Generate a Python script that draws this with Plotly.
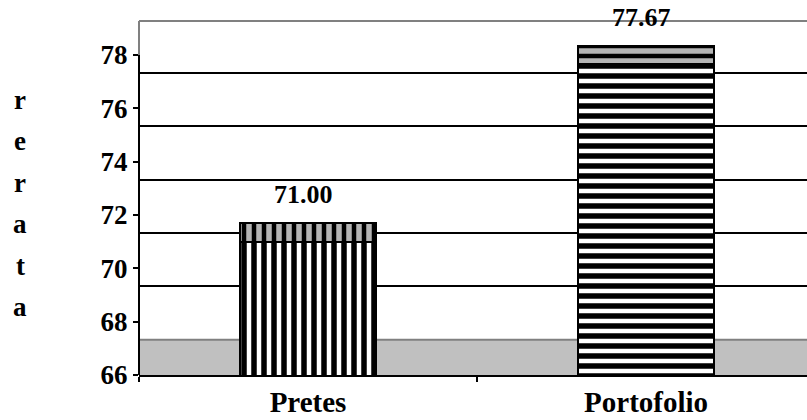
import plotly.graph_objects as go

# ---- data ----
categories = ["Pretes", "Portofolio"]
values = [71.00, 77.67]
y_ticks = [66, 68, 70, 72, 74, 76, 78]
axis_title = "rerata"

# ---- styling constants ----
FONT = "Liberation Serif"
FS_TICK = 27
FS_CAT = 29
FS_VAL = 26
DEPTH = 0.68          # 3D depth offset of the back wall (axis units)
Y_MIN, Y_MAX = 66, 79.27
X_RANGE = [-0.5, 1.476]
BAR_W = 0.40
patterns = ["|", "-"]

fig = go.Figure()

# front faces of bars
fig.add_trace(go.Bar(
    x=categories, y=values, width=BAR_W,
    marker=dict(color="white",
                line=dict(color="black", width=2),
                pattern=dict(shape=patterns, fgcolor="black", bgcolor="white",
                             fgopacity=1, size=10, solidity=0.55, fillmode="replace")),
    showlegend=False, hoverinfo="skip",
))
# top (depth) faces of bars
fig.add_trace(go.Bar(
    x=categories, y=[DEPTH] * len(values), base=values, width=BAR_W,
    marker=dict(color="#a8a8a8",
                line=dict(color="black", width=2),
                pattern=dict(shape=patterns, fgcolor="black", bgcolor="#b4b4b4",
                             fgopacity=1, size=10, solidity=0.45, fillmode="replace")),
    showlegend=False, hoverinfo="skip",
))

# value labels
for c, v in zip(categories, values):
    fig.add_annotation(x=c, y=v + DEPTH, xref="x", yref="y", text=f"<b>{v:.2f}</b>",
                       showarrow=False, xanchor="center", yanchor="bottom",
                       yshift=12, xshift=-5,
                       font=dict(family=FONT, size=FS_VAL, color="black"))

# vertical axis title, one letter per line
L0, STEP = 100, 41.4
for i, ch in enumerate(axis_title):
    ypx = L0 + i * STEP
    fig.add_annotation(x=-0.178, y=(375 - ypx) / 354, xref="paper", yref="paper",
                       text=f"<b>{ch}</b>", showarrow=False,
                       xanchor="center", yanchor="middle",
                       font=dict(family=FONT, size=FS_TICK, color="black"))

# floor (3D base)
fig.add_shape(type="rect", xref="paper", yref="y2", x0=0, x1=1,
              y0=Y_MIN + DEPTH, y1=y_ticks[1], fillcolor="#c0c0c0",
              line=dict(width=0), layer="below")
fig.add_shape(type="line", xref="paper", yref="y2", x0=0, x1=1,
              y0=y_ticks[1], y1=y_ticks[1], line=dict(color="#808080", width=2),
              layer="below")
# top edge of back wall
fig.add_shape(type="line", xref="paper", yref="paper", x0=0, x1=1, y0=1, y1=1,
              line=dict(color="#808080", width=2), layer="below")
# left axis edge: black up to top tick, gray above
fig.add_shape(type="line", xref="paper", yref="y", x0=0, x1=0, y0=Y_MIN, y1=y_ticks[-1],
              line=dict(color="black", width=2), layer="above")
fig.add_shape(type="line", xref="paper", yref="y", x0=0, x1=0, y0=y_ticks[-1], y1=Y_MAX,
              line=dict(color="#808080", width=2), layer="above")

fig.update_layout(
    width=807, height=420,
    margin=dict(l=139, r=0, t=21, b=45, autoexpand=False),
    plot_bgcolor="white", paper_bgcolor="white",
    barmode="overlay", bargap=0,
    showlegend=False,
    xaxis=dict(range=X_RANGE, showgrid=False, showline=True, linecolor="black", linewidth=2,
               ticks="outside", tickson="boundaries", ticklen=5, tickwidth=2, tickcolor="black",
               tickfont=dict(family=FONT, size=FS_CAT, color="black", weight="bold"),
               ticklabelstandoff=0, automargin=False),
    yaxis=dict(range=[Y_MIN, Y_MAX], tickvals=y_ticks, showgrid=False, zeroline=False,
               showline=False, ticks="outside", ticklen=5, tickwidth=2, tickcolor="black",
               tickfont=dict(family=FONT, size=FS_TICK, color="black", weight="bold"),
               automargin=False),
    yaxis2=dict(range=[Y_MIN + DEPTH, Y_MAX + DEPTH], overlaying="y", side="right",
                tickvals=y_ticks[2:], showgrid=True, gridcolor="black", gridwidth=2,
                showticklabels=False, ticks="", showline=False, zeroline=False),
)

fig.write_html("out.html", config={"displayModeBar": False},
               post_script="document.body.style.margin='0';")
